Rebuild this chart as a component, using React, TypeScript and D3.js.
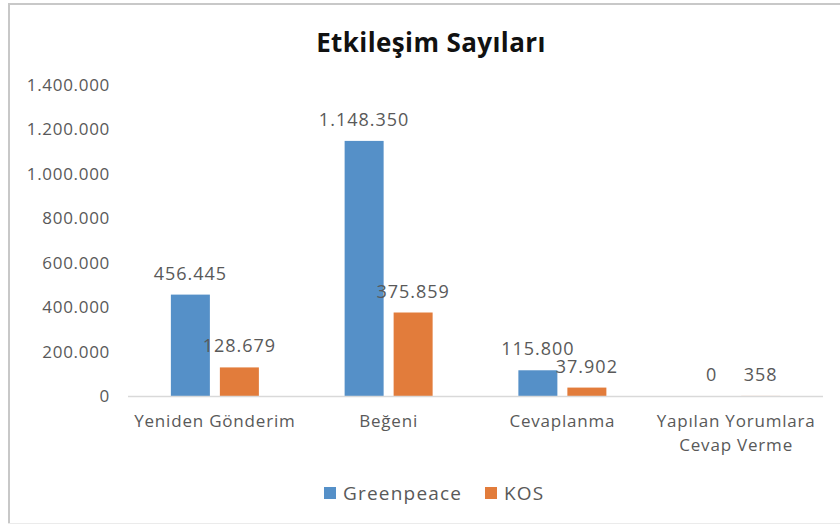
import React from "react";
import * as d3 from "d3";

const categories = ["Yeniden Gönderim", "Beğeni", "Cevaplanma", "Yapılan Yorumlara|Cevap Verme"];
const seriesNames = ["Greenpeace", "KOS"];
const greenpeace = [456445, 1148350, 115800, 0];
const kos = [128679, 375859, 37902, 358];
const yTicks = [0, 200000, 400000, 600000, 800000, 1000000, 1200000, 1400000];
const colors = ["#5590c8", "#e27c3b"];

const fmt = (v: number) => d3.format(",")(v).replace(/,/g, ".");

export default function App() {
  const W = 840, H = 526;
  const left = 128, right = 823, top = 85, bottom = 396;
  const x = d3.scaleBand().domain(categories).range([left, right]);
  const y = d3.scaleLinear().domain([0, 1400000]).range([bottom, top]);
  const barW = 39, gap = 10;
  const series = [greenpeace, kos];
  const font = "'Open Sans', sans-serif";
  const textColor = "#595959";
  return (
    <svg width={W} height={H} style={{ position: "absolute", left: 0, top: 0, background: "#fff" }} fontFamily={font}>
      <rect x={0} y={0} width={W} height={H} fill="#fff" />
      <line x1={8} x2={840} y1={4} y2={4} stroke="#c8c8c8" strokeWidth={2} />
      <line x1={9} x2={9} y1={3} y2={524} stroke="#c8c8c8" strokeWidth={2} />
      <line x1={8} x2={840} y1={523.5} y2={523.5} stroke="#ebebeb" strokeWidth={1} />
      <text x={431} y={52} textAnchor="middle" fontSize={26} fontWeight="bold" fill="#111" letterSpacing={0.4}>
        Etkileşim Sayıları
      </text>
      {yTicks.map((t) => (
        <text key={t} x={110} y={y(t)} dy="0.35em" textAnchor="end" fontSize={17} letterSpacing={0.7} fill={textColor}>
          {fmt(t)}
        </text>
      ))}
      {categories.map((c, ci) => {
        const cx = (x(c) as number) + x.bandwidth() / 2;
        return (
          <g key={c}>
            {series.map((s, si) => {
              const bx = si === 0 ? cx - gap / 2 - barW : cx + gap / 2;
              const v = s[ci];
              return (
                <g key={si}>
                  {v > 0 && (
                    <rect x={bx} y={y(v)} width={barW} height={bottom - y(v)} fill={colors[si]} />
                  )}
                  <text x={bx + barW / 2} y={y(v) - 15} textAnchor="middle" fontSize={18} letterSpacing={1} fill={textColor}>
                    {fmt(v)}
                  </text>
                </g>
              );
            })}
            {c.split("|").map((line, li) => (
              <text key={li} x={cx} y={427 + li * 24} textAnchor="middle" fontSize={17} letterSpacing={0.8} fill={textColor}>
                {line}
              </text>
            ))}
          </g>
        );
      })}
      <line x1={left} x2={right} y1={bottom + 0.5} y2={bottom + 0.5} stroke="#d9d9d9" strokeWidth={1.5} />
      {seriesNames.map((n, i) => {
        const lx = i === 0 ? 324 : 485;
        return (
          <g key={n}>
            <rect x={lx} y={487} width={12} height={12} fill={colors[i]} />
            <text x={lx + 19} y={493} dy="0.35em" fontSize={19} letterSpacing={1.2} fill={textColor}>
              {n}
            </text>
          </g>
        );
      })}
    </svg>
  );
}
